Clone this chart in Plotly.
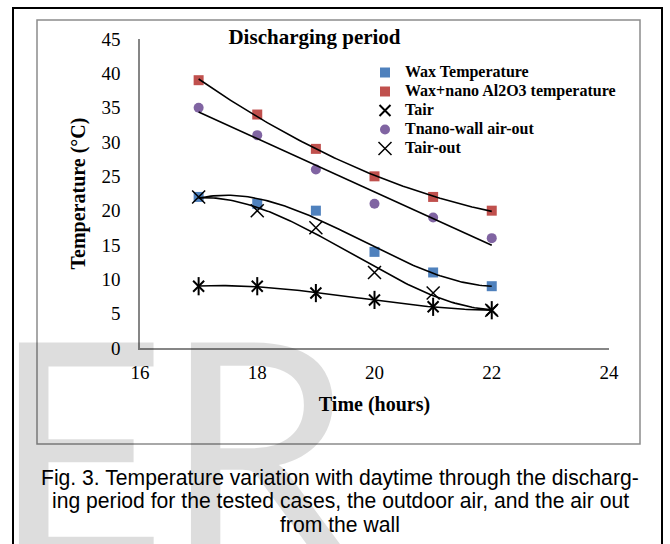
import numpy as np
import plotly.graph_objects as go

# ---- data ----
hours = [17, 18, 19, 20, 21, 22]
wax_temp = [22, 21, 20, 14, 11, 9]
wax_nano_temp = [39, 34, 29, 25, 22, 20]
t_air = [9, 9, 8, 7, 6, 5.5]
t_nano_wall_out = [35, 31, 26, 21, 19, 16]
t_air_out = [22, 20, 17.5, 11, 8, 5.5]

x_ticks = [16, 18, 20, 22, 24]
y_ticks = [0, 5, 10, 15, 20, 25, 30, 35, 40, 45]

names = ["Wax Temperature", "Wax+nano Al2O3 temperature", "Tair",
         "Tnano-wall air-out", "Tair-out"]

BLUE, RED, PURPLE = "#4F81BD", "#C0504D", "#8064A2"
SERIF = "Liberation Serif"
SANS = "Liberation Sans"

W, H = 670, 544
ML, MR, MT, MB = 140, 61, 39, 196
PW, PH = W - ML - MR, H - MT - MB


def px_x(p):
    return (p - ML) / PW


def px_y(p):
    return (H - MB - p) / PH


def lg(name):
    return '<span style="font-size:16px">' + name + '</span>'


fig = go.Figure()

# markers
fig.add_trace(go.Scatter(x=hours, y=wax_temp, mode="markers", name=lg(names[0]),
                         marker=dict(symbol="square", size=10, color=BLUE)))
fig.add_trace(go.Scatter(x=hours, y=wax_nano_temp, mode="markers", name=lg(names[1]),
                         marker=dict(symbol="square", size=10, color=RED)))
fig.add_trace(go.Scatter(x=hours, y=t_air, mode="markers", name=lg(names[2]),
                         marker=dict(symbol="x-thin-open", size=11, color="black",
                                     line=dict(color="black", width=2))))
fig.add_trace(go.Scatter(x=hours, y=t_air, mode="markers", showlegend=False,
                         marker=dict(symbol="line-ns-open", size=13, color="black",
                                     line=dict(color="black", width=2))))
fig.add_trace(go.Scatter(x=hours, y=t_nano_wall_out, mode="markers", name=lg(names[3]),
                         marker=dict(symbol="circle", size=10, color=PURPLE)))
fig.add_trace(go.Scatter(x=hours, y=t_air_out, mode="markers", name=lg(names[4]),
                         marker=dict(symbol="x-thin-open", size=13, color="black",
                                     line=dict(color="black", width=1.5))))

# polynomial trendlines (as in the spreadsheet chart)
xs = np.linspace(min(hours), max(hours), 120)
for ys, deg in [(wax_temp, 3), (wax_nano_temp, 2), (t_air, 3),
                (t_nano_wall_out, 1), (t_air_out, 3)]:
    c = np.polyfit(hours, ys, deg)
    fig.add_trace(go.Scatter(x=xs, y=np.polyval(c, xs), mode="lines",
                             showlegend=False, hoverinfo="skip",
                             line=dict(color="black", width=1.6)))

WM = dict(family="Lato", size=305, color="rgba(0,0,0,0.135)")
annotations = [
    # background watermark letters
    dict(text="E", x=px_x(-11), y=px_y(258), xref="paper", yref="paper",
         xanchor="left", yanchor="top", showarrow=False, font=WM),
    dict(text="R", x=px_x(161), y=px_y(258), xref="paper", yref="paper",
         xanchor="left", yanchor="top", showarrow=False, font=WM),
]
caption = ["Fig. 3. Temperature variation with daytime through the discharg-",
           "ing period for the tested cases, the outdoor air, and the air out",
           "from the wall"]
for line, yp in zip(caption, [478, 501, 524]):
    annotations.append(dict(text=line, x=px_x(340), y=px_y(yp), xref="paper", yref="paper",
                            xanchor="center", yanchor="middle", showarrow=False,
                            font=dict(family=SANS, size=21.15, color="black")))

shapes = [
    dict(type="rect", xref="paper", yref="paper",
         x0=px_x(13), x1=px_x(662), y0=px_y(570), y1=px_y(8),
         line=dict(color="black", width=2), layer="below"),
    dict(type="rect", xref="paper", yref="paper",
         x0=px_x(37), x1=px_x(640), y0=px_y(444), y1=px_y(20),
         line=dict(color="#8C8C8C", width=1.5), layer="below"),
]

fig.update_layout(
    width=W, height=H,
    margin=dict(l=ML, r=MR, t=MT, b=MB, autoexpand=False),
    paper_bgcolor="white", plot_bgcolor="white",
    title=dict(text="<b>Discharging period</b>", x=px_x(314.5), xref="paper",
               y=1 - 37 / H, yref="container", xanchor="center", yanchor="middle",
               font=dict(family=SERIF, size=21, color="black")),
    xaxis=dict(range=[16, 24], tickvals=x_ticks, showgrid=False, zeroline=False,
               showline=True, linecolor="#868686", linewidth=1.5, ticks="",
               ticklabelstandoff=6,
               tickfont=dict(family=SERIF, size=19, color="black"),
               title=dict(text="<b>Time (hours)</b>", standoff=15,
                          font=dict(family=SERIF, size=20, color="black"))),
    yaxis=dict(range=[0, 45], tickvals=y_ticks, showgrid=False, zeroline=False,
               showline=True, linecolor="#868686", linewidth=1.5, ticks="",
               ticklabelstandoff=14,
               tickfont=dict(family=SERIF, size=19, color="black"),
               title=dict(text="<b>Temperature (°C)</b>", standoff=10,
                          font=dict(family=SERIF, size=20, color="black"))),
    legend=dict(x=px_x(365), y=px_y(58), xref="paper", yref="paper",
                xanchor="left", yanchor="top", bgcolor="rgba(0,0,0,0)",
                borderwidth=0, tracegroupgap=0,
                font=dict(family=SERIF, size=12, color="black", weight="bold")),
    showlegend=True,
    annotations=annotations,
    shapes=shapes,
)

fig.write_html("out.html")
